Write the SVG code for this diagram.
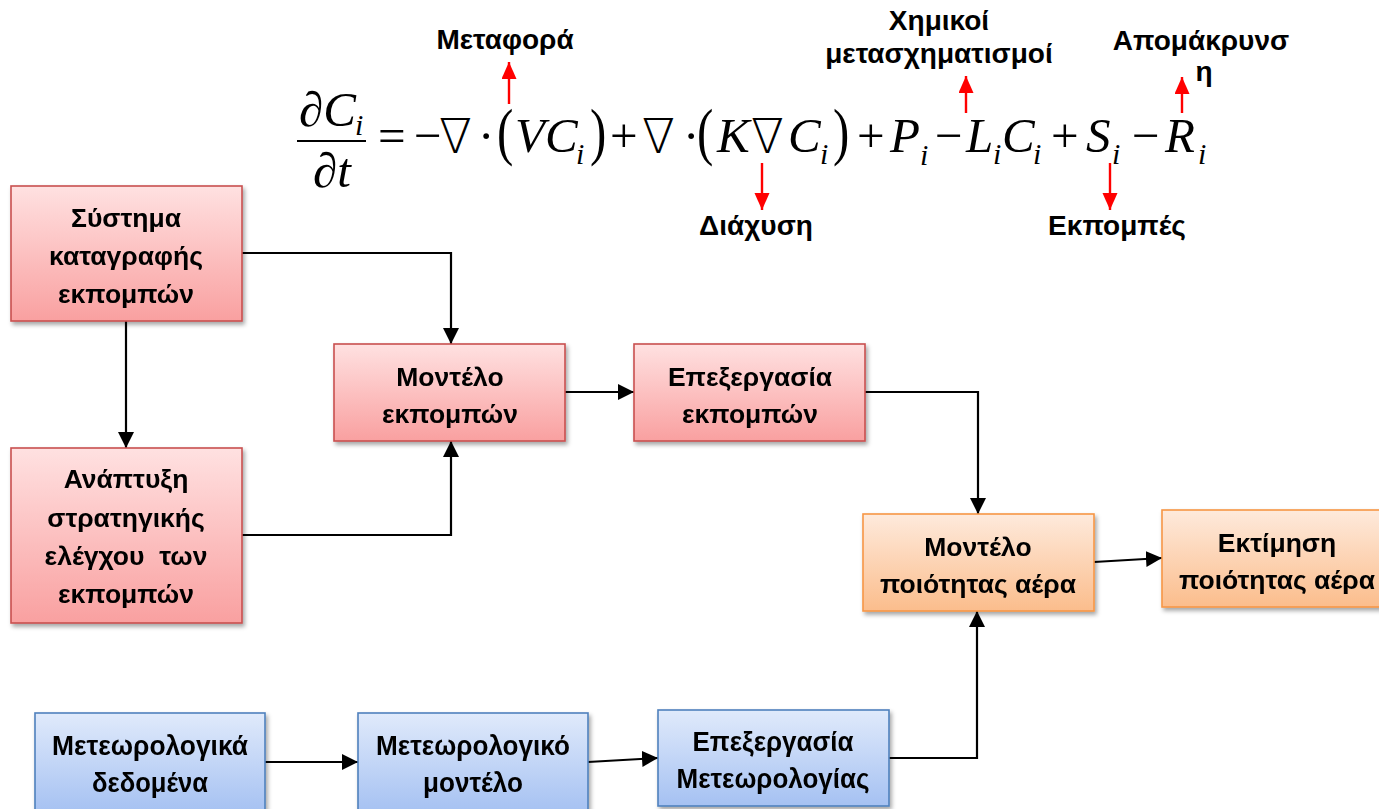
<svg xmlns="http://www.w3.org/2000/svg" width="1379" height="809" viewBox="0 0 1379 809">
  <style>
    .lbl { font-family: "Liberation Sans", Arial, sans-serif; font-weight: bold; font-size: 28px; fill: #000; text-anchor: middle; }
    .box text { font-family: "Liberation Sans", Arial, sans-serif; font-weight: bold; font-size: 26.5px; fill: #000; text-anchor: middle; }
    .blue text { font-size: 28px; }
    .red rect { fill: url(#gRed); stroke: #c9504f; stroke-width: 1.6; }
    .org rect { fill: url(#gOrg); stroke: #f79646; stroke-width: 1.6; }
    .blue rect { fill: url(#gBlue); stroke: #4f81bd; stroke-width: 1.6; }
    .box { filter: url(#shadow); }
    .conn { fill: none; stroke: #000; stroke-width: 2.2; marker-end: url(#ah); }
    .rarr { fill: none; stroke: #ff0000; stroke-width: 2.4; marker-end: url(#rah); }
    .m { font-family: "Liberation Serif", "Times New Roman", "DejaVu Serif", serif; font-size: 49px; fill: #000; }
    .it { font-style: italic; }
    .sub { font-size: 30px; font-style: italic; }
    .op { font-family: "DejaVu Sans", "DejaVu Serif", serif; font-size: 48px; font-weight: 200; }
  </style>
  <defs>
    <linearGradient id="gRed" x1="0" y1="0" x2="0" y2="1">
      <stop offset="0" stop-color="#ffe1e1"/>
      <stop offset="1" stop-color="#f9a0a0"/>
    </linearGradient>
    <linearGradient id="gOrg" x1="0" y1="0" x2="0" y2="1">
      <stop offset="0" stop-color="#feeadc"/>
      <stop offset="1" stop-color="#fbbd8c"/>
    </linearGradient>
    <linearGradient id="gBlue" x1="0" y1="0" x2="0" y2="1">
      <stop offset="0" stop-color="#e0eafb"/>
      <stop offset="1" stop-color="#a5c1f2"/>
    </linearGradient>
    <filter id="shadow" x="-10%" y="-10%" width="125%" height="130%">
      <feDropShadow dx="2" dy="3" stdDeviation="2" flood-color="#000" flood-opacity="0.35"/>
    </filter>
    <marker id="ah" markerUnits="userSpaceOnUse" markerWidth="17" markerHeight="17" refX="16" refY="8" orient="auto">
      <path d="M0,0 L16,8 L0,16 Z" fill="#000"/>
    </marker>
    <marker id="rah" markerUnits="userSpaceOnUse" markerWidth="18" markerHeight="16" refX="17" refY="7.5" orient="auto">
      <path d="M0,0 L17,7.5 L0,15 Z" fill="#ff0000"/>
    </marker>
  </defs>

  <!-- advection–diffusion equation -->
  <g id="equation" class="m">
    <text class="it" x="299" y="126">∂C</text>
    <text class="sub" x="355" y="135">i</text>
    <line x1="297" y1="141" x2="366" y2="141" stroke="#000" stroke-width="2"/>
    <text class="it" x="313" y="187">∂t</text>

    <text x="378" y="152">=</text>
    <text x="414" y="152">−</text>
    <text class="op" x="439" y="153">∇</text>
    <text x="478" y="152">·</text>
    <text transform="translate(497,153) scale(1,1.3)">(</text>
    <text class="it" x="515" y="152">VC</text>
    <text class="sub" x="576" y="164">i</text>
    <text transform="translate(590,153) scale(1,1.3)">)</text>
    <text x="610" y="152">+</text>
    <text class="op" x="642" y="153">∇</text>
    <text x="683" y="152">·</text>
    <text transform="translate(697,153) scale(1,1.3)">(</text>
    <text class="it" x="717" y="152">K</text>
    <text class="op" x="751" y="153">∇</text>
    <text class="it" x="788" y="152">C</text>
    <text class="sub" x="820" y="164">i</text>
    <text transform="translate(833,153) scale(1,1.3)">)</text>
    <text x="857" y="152">+</text>
    <text class="it" x="890" y="152">P</text>
    <text class="sub" x="920" y="165">i</text>
    <text x="935" y="152">−</text>
    <text class="it" x="966" y="152">L</text>
    <text class="sub" x="993" y="164">i</text>
    <text class="it" x="1002" y="152">C</text>
    <text class="sub" x="1033" y="164">i</text>
    <text x="1051" y="152">+</text>
    <text class="it" x="1086" y="152">S</text>
    <text class="sub" x="1112" y="164">i</text>
    <text x="1132" y="152">−</text>
    <text class="it" x="1165" y="152">R</text>
    <text class="sub" x="1198" y="164">i</text>
  </g>

  <!-- term annotations -->
  <g id="annotations">
    <path class="rarr" d="M509,104 V62"/>
    <path class="rarr" d="M762,163 V210"/>
    <path class="rarr" d="M966,113 V76"/>
    <path class="rarr" d="M1110,163 V210"/>
    <path class="rarr" d="M1182,113 V77"/>
    <text class="lbl" x="505" y="49">Μεταφορά</text>
    <text class="lbl" x="939" y="30">Χημικοί</text>
    <text class="lbl" x="939" y="63">μετασχηματισμοί</text>
    <text class="lbl" x="1201" y="50">Απομάκρυνσ</text>
    <text class="lbl" x="1204" y="81">η</text>
    <text class="lbl" x="756" y="235">Διάχυση</text>
    <text class="lbl" x="1117" y="235">Εκπομπές</text>
  </g>

  <!-- connectors -->
  <g id="connectors">
    <path class="conn" d="M242,253 H451 V344"/>
    <path class="conn" d="M126,321 V448"/>
    <path class="conn" d="M242,535 H451 V441"/>
    <path class="conn" d="M565,392 H634"/>
    <path class="conn" d="M865,392 H978 V514"/>
    <path class="conn" d="M1094,562 L1162,558"/>
    <path class="conn" d="M265,762 H358"/>
    <path class="conn" d="M588,762 L658,758"/>
    <path class="conn" d="M889,758 H977 V611"/>
  </g>

  <!-- emissions chain -->
  <g id="emission-inventory" class="box red">
    <rect x="11" y="186" width="231" height="135"/>
    <text x="126" y="227">Σύστημα</text>
    <text x="126" y="265">καταγραφής</text>
    <text x="126" y="303">εκπομπών</text>
  </g>
  <g id="control-strategy" class="box red">
    <rect x="11" y="448" width="231" height="175"/>
    <text x="126" y="488">Ανάπτυξη</text>
    <text x="126" y="527">στρατηγικής</text>
    <text x="126" y="565" xml:space="preserve">ελέγχου  των</text>
    <text x="126" y="603">εκπομπών</text>
  </g>
  <g id="emission-model" class="box red">
    <rect x="334" y="344" width="231" height="97"/>
    <text x="450" y="386">Μοντέλο</text>
    <text x="450" y="423">εκπομπών</text>
  </g>
  <g id="emission-processing" class="box red">
    <rect x="634" y="344" width="231" height="97"/>
    <text x="750" y="386">Επεξεργασία</text>
    <text x="750" y="423">εκπομπών</text>
  </g>

  <!-- air quality -->
  <g id="aq-model" class="box org">
    <rect x="863" y="514" width="231" height="97"/>
    <text x="978" y="556">Μοντέλο</text>
    <text x="978" y="593">ποιότητας αέρα</text>
  </g>
  <g id="aq-assessment" class="box org">
    <rect x="1162" y="510" width="231" height="97"/>
    <text x="1277" y="552">Εκτίμηση</text>
    <text x="1277" y="589">ποιότητας αέρα</text>
  </g>

  <!-- meteorology chain -->
  <g id="met-data" class="box blue">
    <rect x="35" y="713" width="230" height="100"/>
    <text x="150" y="755" textLength="196" lengthAdjust="spacingAndGlyphs">Μετεωρολογικά</text>
    <text x="150" y="792" textLength="116" lengthAdjust="spacingAndGlyphs">δεδομένα</text>
  </g>
  <g id="met-model" class="box blue">
    <rect x="358" y="713" width="230" height="100"/>
    <text x="473" y="755" textLength="194" lengthAdjust="spacingAndGlyphs">Μετεωρολογικό</text>
    <text x="473" y="792" textLength="100" lengthAdjust="spacingAndGlyphs">μοντέλο</text>
  </g>
  <g id="met-processing" class="box blue">
    <rect x="658" y="710" width="231" height="96"/>
    <text x="773" y="751" textLength="161" lengthAdjust="spacingAndGlyphs">Επεξεργασία</text>
    <text x="773" y="788" textLength="193" lengthAdjust="spacingAndGlyphs">Μετεωρολογίας</text>
  </g>
</svg>
